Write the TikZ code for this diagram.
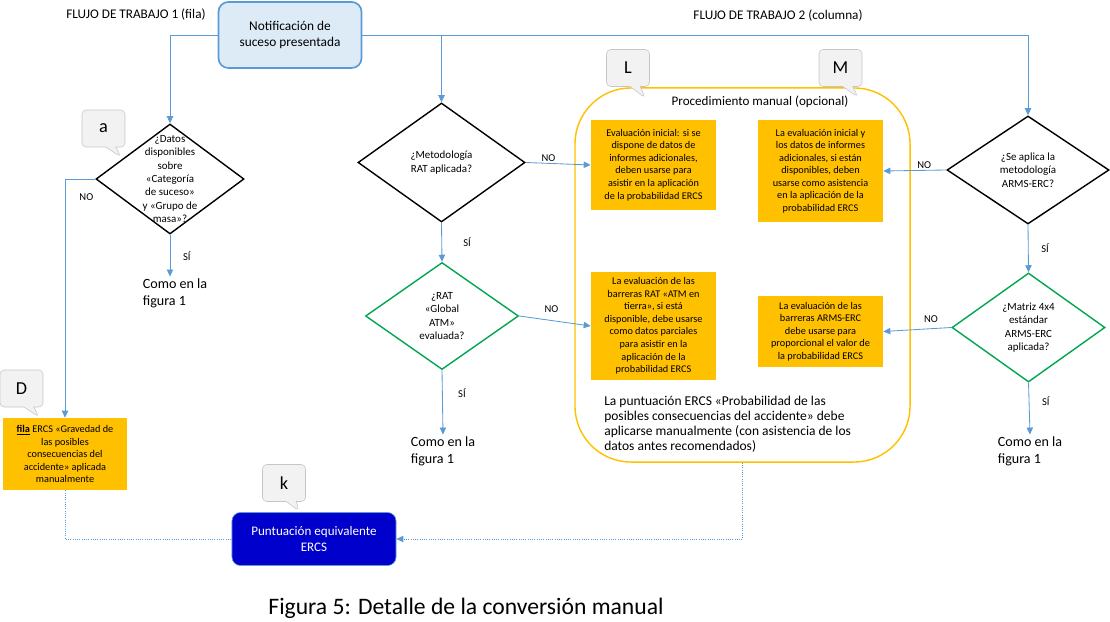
\documentclass[tikz,border=0pt]{standalone}
\usepackage{fontspec}
\setmainfont{Carlito}
\usetikzlibrary{positioning, arrows.meta, shapes.geometric, shapes.callouts}

\definecolor{lineblue}{RGB}{91,155,213}
\definecolor{notifill}{RGB}{221,235,247}
\definecolor{ambar}{RGB}{255,192,0}
\definecolor{darkblue}{RGB}{0,0,204}
\definecolor{dgreen}{RGB}{0,166,81}
\definecolor{callgray}{RGB}{242,242,242}

\newcommand{\fsz}[2]{\fontsize{#1}{#2}\selectfont}

\begin{document}
\begin{tikzpicture}[x=0.025cm, y=-0.025cm,
  conn/.style={draw=lineblue, line width=0.6pt},
  arr/.style={conn, -{Triangle[length=5pt,width=4.5pt]}},
  dots/.style={draw=lineblue, densely dotted, line width=0.6pt},
  lbl/.style={font=\fsz{7.5}{9}, inner sep=1pt},
  dia/.style={diamond, draw, line width=1pt, align=center, inner sep=-8pt,
              font=\fsz{7.8}{9.5}},
  gdia/.style={dia, draw=dgreen},
  obox/.style={fill=ambar, align=center, inner sep=2pt, minimum width=3.125cm,
               font=\fsz{7.3}{8.9}},
  bubble/.style={rectangle callout, draw=gray!45, fill=callgray, rounded corners=3pt,
                 font=\fsz{13}{15}, minimum width=1.075cm, minimum height=0.925cm},
  fig1/.style={align=left, font=\fsz{10}{12.3}, inner sep=1pt}]
  \useasboundingbox (0,0) rectangle (1110,622);

  % headers and start
  \node[font=\fsz{9.4}{11}] (wf1) at (136,15) {FLUJO DE TRABAJO 1 (fila)};
  \node[font=\fsz{9.4}{11}] (wf2) at (778,16) {FLUJO DE TRABAJO 2 (columna)};
  \node[draw=lineblue, line width=1.2pt, fill=notifill, rounded corners=7pt,
        minimum width=3.575cm, minimum height=1.65cm, align=center,
        font=\fsz{9.5}{11.9}] (notif) at (290,35) {Notificación de\\suceso presentada};

  % manual procedure frame
  \node[draw=ambar, line width=1pt, rounded corners=1.4cm, minimum width=8.375cm,
        minimum height=9.35cm] (manual) at (742.5,275) {};
  \node[font=\fsz{9.3}{11}] (proc) at (760,102) {Procedimiento manual (opcional)};

  % workflow 1
  \node[dia, inner sep=-20pt, minimum width=3.7cm, minimum height=2.75cm] (qdatos)
        at (170,179) {¿Datos\\disponibles\\sobre\\«Categoría\\de suceso»\\y «Grupo de\\masa»?};
  \node[fig1] (comoA) at (175,293) {Como en la\\figura 1};
  \node[obox, minimum width=3.1cm, minimum height=1.8cm] (gravedad) at (65,454)
        {\underline{\textbf{fila}} ERCS «Gravedad de\\las posibles\\consecuencias del\\accidente» aplicada\\manualmente};
  \node[draw=lineblue, fill=darkblue, text=white, rounded corners=6pt,
        minimum width=4.1cm, minimum height=1.325cm, align=center,
        font=\fsz{9.3}{11.9}] (punt) at (314,539) {Puntuación equivalente\\ERCS};

  % RAT column
  \node[dia, minimum width=4.175cm, minimum height=2.975cm] (qrat) at (441.5,162.5)
        {¿Metodología\\RAT aplicada?};
  \node[gdia, minimum width=3.825cm, minimum height=2.675cm] (qglobal) at (442,316)
        {¿RAT\\«Global\\ATM»\\evaluada?};
  \node[fig1] (comoB) at (443,451) {Como en la\\figura 1};

  % orange boxes
  \node[obox, minimum height=2.25cm] (eval1) at (653.5,165)
        {Evaluación inicial: si se\\dispone de datos de\\informes adicionales,\\deben usarse para\\asistir en la aplicación\\de la probabilidad ERCS};
  \node[obox, minimum height=2.55cm] (eval2) at (820.5,171)
        {La evaluación inicial y\\los datos de informes\\adicionales, si están\\disponibles, deben\\usarse como asistencia\\en la aplicación de la\\probabilidad ERCS};
  \node[obox, minimum height=2.7cm] (eval3) at (653.5,326)
        {La evaluación de las\\barreras RAT «ATM en\\tierra», si está\\disponible, debe usarse\\como datos parciales\\para asistir en la\\aplicación de la\\probabilidad ERCS};
  \node[obox, minimum height=1.775cm] (eval4) at (820.5,331.5)
        {La evaluación de las\\barreras ARMS-ERC\\debe usarse para\\proporcional el valor de\\la probabilidad ERCS};
  \node[align=left, anchor=west, font=\fsz{9.6}{10.6}, inner sep=0pt] (note)
        at (604,424) {La puntuación ERCS «Probabilidad de las\\posibles consecuencias del accidente» debe\\aplicarse manualmente (con asistencia de los\\datos antes recomendados)};

  % ARMS column
  \node[dia, minimum width=4.05cm, minimum height=2.7cm] (qarms) at (1028,170)
        {¿Se aplica la\\metodología\\ARMS-ERC?};
  \node[gdia, minimum width=3.825cm, minimum height=2.725cm] (qmatriz) at (1028.5,327.5)
        {¿Matriz 4x4\\estándar\\ARMS-ERC\\aplicada?};
  \node[fig1] (comoC) at (1030,451) {Como en la\\figura 1};

  % callouts
  \node[bubble, callout absolute pointer={(121,157)}] (tagA) at (103.5,128.5) {a};
  \node[bubble, callout absolute pointer={(39,417)}] (tagD) at (21.5,388.5) {D};
  \node[bubble, callout absolute pointer={(299,511)}] (tagK) at (284,483) {k};
  \node[bubble, callout absolute pointer={(645,98)}] (tagL) at (628,68) {L};
  \node[bubble, callout absolute pointer={(858,97)}] (tagM) at (840.5,68) {M};

  % connectors
  \draw[arr] (notif.west) -| (qdatos.north);
  \draw[arr] (notif.east) -| (qarms.north);
  \draw[arr] (notif.east) -| (qrat.north);
  \draw[arr] (qdatos.west) -| node[lbl, pos=0.5, below right=9pt and 9pt] {NO} (gravedad.north);
  \draw[arr] (qdatos.south) -- node[lbl, right=8pt] {SÍ} (qdatos.south |- comoA.north);
  \draw[dots] (gravedad.south) |- (punt.west);
  \draw[dots, -{Triangle[length=5pt,width=4.5pt]}] (manual.south) |- (punt.east);

  \draw[arr] (qrat.east) -- node[lbl, above, pos=0.35] {NO} (eval1.west);
  \draw[arr] (qrat.south) -- node[lbl, right=14pt] {SÍ} (qglobal.north);
  \draw[arr] (qglobal.east) -- node[lbl, above=4pt, pos=0.45] {NO} (eval3.west);
  \draw[arr] (qglobal.south) -- node[lbl, right=10pt, pos=0.35] {SÍ} (comoB.north);

  \draw[arr] (qarms.west) -- node[lbl, above, pos=0.35] {NO} (eval2.east);
  \draw[arr] (qarms.south) -- node[lbl, right=8pt] {SÍ} (qmatriz.north);
  \draw[arr] (qmatriz.west) -- node[lbl, above=3pt, pos=0.3] {NO} (eval4.east);
  \draw[arr] (qmatriz.south) -- node[lbl, right=8pt, pos=0.35] {SÍ} (comoC.north);

  \node[font=\fsz{16.8}{19}] (caption) at (466,608) {Figura 5: Detalle de la conversión manual};
\end{tikzpicture}
\end{document}
